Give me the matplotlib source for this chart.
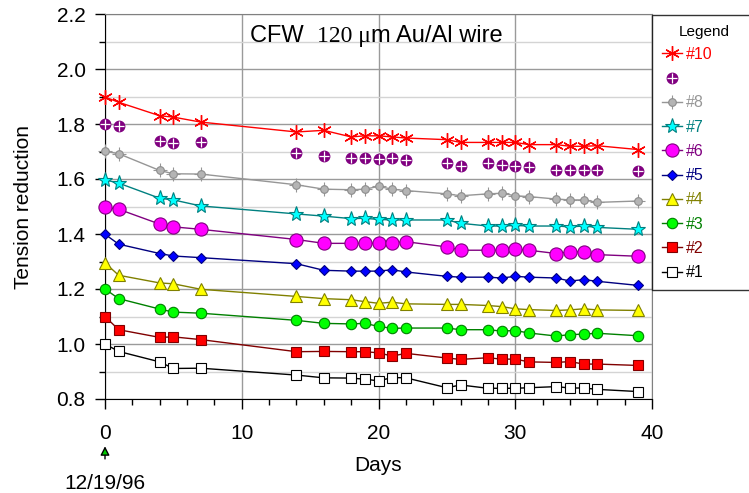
import matplotlib
matplotlib.use('Agg')
import matplotlib.pyplot as plt
from matplotlib.ticker import MultipleLocator
from matplotlib.legend_handler import HandlerTuple

plt.rcParams['font.family'] = ['Liberation Sans', 'DejaVu Sans']

days = [0, 1, 4, 5, 7, 14, 16, 18, 19, 20, 21, 22, 25, 26, 28, 29, 30, 31, 33, 34, 35, 36, 39]

s1 = [1.000, 0.973, 0.935, 0.911, 0.912, 0.887, 0.877, 0.876, 0.872, 0.866, 0.878, 0.877,
      0.841, 0.851, 0.839, 0.839, 0.839, 0.841, 0.845, 0.840, 0.840, 0.835, 0.827]
s2 = [1.100, 1.052, 1.024, 1.026, 1.016, 0.972, 0.973, 0.972, 0.972, 0.968, 0.956, 0.966,
      0.949, 0.944, 0.950, 0.945, 0.945, 0.935, 0.933, 0.936, 0.927, 0.927, 0.922]
s3 = [1.200, 1.165, 1.127, 1.116, 1.112, 1.086, 1.075, 1.073, 1.075, 1.064, 1.057, 1.058,
      1.058, 1.052, 1.052, 1.047, 1.049, 1.040, 1.029, 1.034, 1.036, 1.039, 1.030]
s4 = [1.295, 1.250, 1.222, 1.219, 1.199, 1.173, 1.165, 1.161, 1.154, 1.148, 1.152, 1.146,
      1.144, 1.144, 1.140, 1.136, 1.128, 1.125, 1.122, 1.124, 1.128, 1.124, 1.122]
s5 = [1.399, 1.363, 1.329, 1.320, 1.314, 1.292, 1.268, 1.265, 1.265, 1.265, 1.270, 1.262,
      1.246, 1.243, 1.243, 1.240, 1.246, 1.243, 1.240, 1.229, 1.234, 1.228, 1.213]
s6 = [1.497, 1.490, 1.436, 1.426, 1.417, 1.380, 1.366, 1.366, 1.366, 1.366, 1.368, 1.372,
      1.353, 1.341, 1.341, 1.341, 1.344, 1.341, 1.329, 1.335, 1.335, 1.325, 1.319]
s7 = [1.597, 1.585, 1.530, 1.524, 1.502, 1.473, 1.465, 1.456, 1.457, 1.453, 1.451, 1.451,
      1.451, 1.439, 1.429, 1.429, 1.431, 1.429, 1.429, 1.426, 1.429, 1.424, 1.417]
s8 = [1.701, 1.692, 1.631, 1.619, 1.618, 1.579, 1.563, 1.561, 1.563, 1.573, 1.563, 1.558,
      1.546, 1.539, 1.546, 1.548, 1.539, 1.536, 1.527, 1.524, 1.524, 1.515, 1.520]
s9 = [1.801, 1.794, 1.739, 1.731, 1.736, 1.695, 1.685, 1.676, 1.676, 1.674, 1.676, 1.670,
      1.658, 1.648, 1.658, 1.652, 1.648, 1.644, 1.631, 1.631, 1.634, 1.634, 1.628]
s10 = [1.898, 1.879, 1.830, 1.825, 1.807, 1.771, 1.777, 1.753, 1.757, 1.757, 1.753, 1.749,
       1.743, 1.733, 1.733, 1.733, 1.733, 1.725, 1.725, 1.719, 1.719, 1.721, 1.707]

fig = plt.figure(figsize=(7.49, 4.93), dpi=100)
ax = fig.add_axes([105 / 749, 1 - 399 / 493, 547 / 749, 385 / 493])

ax.set_xlim(0, 40)
ax.set_ylim(0.8, 2.2)

# grid
ax.xaxis.set_major_locator(MultipleLocator(10))
ax.xaxis.set_minor_locator(MultipleLocator(2))
ax.yaxis.set_major_locator(MultipleLocator(0.2))
ax.yaxis.set_minor_locator(MultipleLocator(0.1))
ax.grid(True, which='major', axis='x', color='#9a9a9a', lw=1)
ax.grid(True, which='major', axis='y', color='#9a9a9a', lw=1)
ax.grid(True, which='minor', axis='y', color='#d4d4d4', lw=1)
ax.set_axisbelow(True)

ax.tick_params(axis='both', which='major', direction='out', length=7, width=1, labelsize=15)
ax.tick_params(axis='both', which='minor', direction='out', length=4, width=1)
ax.tick_params(axis='x', which='major', pad=11)
ax.tick_params(axis='y', which='major', pad=7)
ax.yaxis.set_major_formatter(matplotlib.ticker.FormatStrFormatter('%.1f'))

for side in ['left', 'bottom']:
    ax.spines[side].set_color('black')
for side in ['top', 'right']:
    ax.spines[side].set_color('#808080')

ax.set_xlabel('Days', fontsize=15, labelpad=9.5)
ax.set_ylabel('Tension reduction', fontsize=15)
ax.yaxis.set_label_coords(-0.132, 0.5)

kw = dict(lw=1, mew=0.8, clip_on=False, zorder=3)
l1, = ax.plot(days, s1, color='black', marker='s', ms=7.5, mfc='white', mec='black', **kw)
l2, = ax.plot(days, s2, color='#800000', marker='s', ms=7.5, mfc='red', mec='#800000', **kw)
l3, = ax.plot(days, s3, color='#008000', marker='o', ms=7.5, mfc='#00ff00', mec='#008000', **kw)
l4, = ax.plot(days, s4, color='#808000', marker='^', ms=8.5, mfc='yellow', mec='#808000', **kw)
l5, = ax.plot(days, s5, color='#000080', marker='D', ms=5.5, mfc='blue', mec='#000080', **kw)
l6, = ax.plot(days, s6, color='#800080', marker='o', ms=9.5, mfc='magenta', mec='#800080', **kw)
l7, = ax.plot(days, s7, color='#008080', marker='*', ms=11, mfc='cyan', mec='#008080', **kw)
l8, = ax.plot(days, s8, color='#969696', marker='o', ms=5.5, mfc='#b4b4b4', mec='#8c8c8c', **kw)
l8b, = ax.plot(days, s8, ls='none', marker='+', ms=10, mew=0.8, color='#969696', clip_on=False, zorder=2.9)
l9, = ax.plot(days, s9, ls='none', marker='o', ms=7.5, mfc='#800080', mec='#800080', clip_on=False, zorder=3)
l9b, = ax.plot(days, s9, ls='none', marker='+', ms=7, mew=0.9, color='white', clip_on=False, zorder=3.1)
l10, = ax.plot(days, s10, color='red', marker=(6, 2, 0), ms=10.5, mew=1.0, mec='red', lw=1,
               clip_on=False, zorder=3)

# title with mixed fonts
t1 = ax.text(10.6, 2.1, 'CFW  ', fontsize=17, ha='left', va='baseline')
t2 = ax.annotate('120 \u03bc', xy=(1, 0), xycoords=t1, fontsize=17, ha='left', va='bottom',
                 family=['Liberation Serif', 'DejaVu Serif'])
t3 = ax.annotate('m Au/Al wire', xy=(1, 0), xycoords=t2, fontsize=17, ha='left', va='bottom')

# date annotation
ax.annotate('12/19/96', xy=(0, 0.628), xytext=(0, 0.492), textcoords='data', xycoords='data',
            ha='center', va='center', fontsize=15, annotation_clip=False,
            arrowprops=dict(arrowstyle='-|>,head_length=0.35,head_width=0.18',
                            fc='#00cc00', ec='black', lw=1, shrinkA=9, shrinkB=0))

handles = [l10, (l9, l9b), (l8b, l8), l7, l6, l5, l4, l3, l2, l1]
labels = ['#10', '', '#8', '#7', '#6', '#5', '#4', '#3', '#2', '#1']
text_colors = ['red', 'black', '#969696', '#008080', '#800080', '#000080', '#808000',
               '#008000', '#800000', 'black']

leg = fig.legend(handles, labels, title='Legend', loc='upper left',
                 bbox_to_anchor=(652 / 749, 1 - 15 / 493, 1 - 652 / 749 + 0.01, 0),
                 mode='expand', borderaxespad=0, frameon=True, fancybox=False,
                 edgecolor='black', fontsize=11.5, title_fontsize=11, handlelength=1.3,
                 handletextpad=0.25, labelspacing=0.58, borderpad=0.6,
                 handler_map={tuple: HandlerTuple(ndivide=1)})
leg.get_frame().set_linewidth(1)
leg._legend_box.sep = 6
for txt, c in zip(leg.get_texts(), text_colors):
    txt.set_color(c)

fig.savefig('out.png', dpi=100)
